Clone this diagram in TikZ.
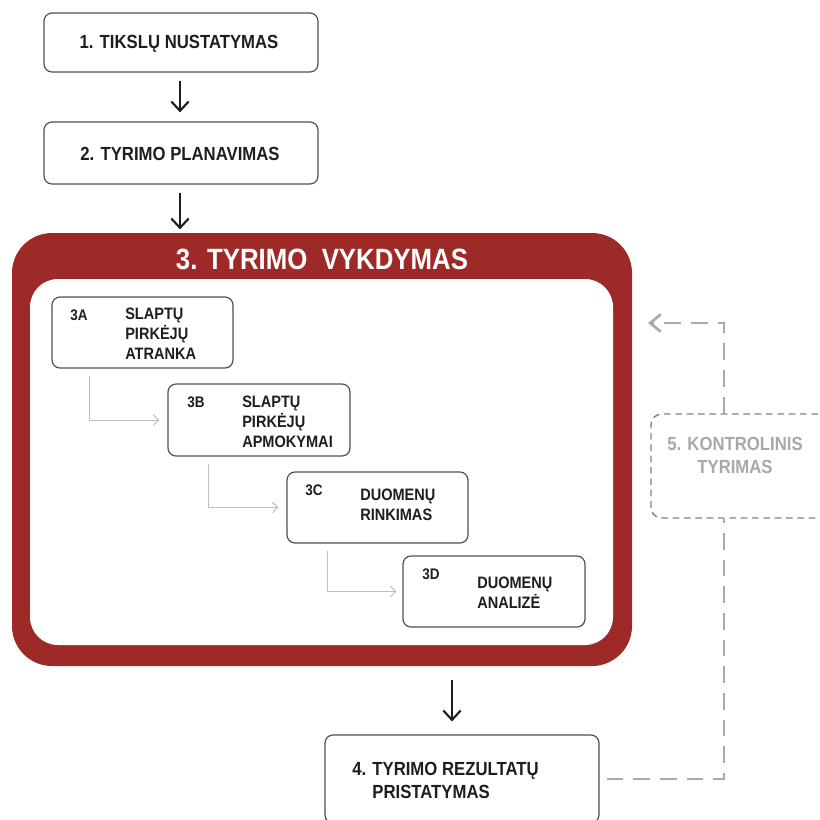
\documentclass[tikz,border=0pt]{standalone}
\usepackage{fontspec}
\usetikzlibrary{arrows.meta,fit,calc}
\newfontfamily\dCond{Liberation Sans}[FakeStretch=0.88]
\newcommand\dMain{\dCond\bfseries\fontsize{14.25pt}{17.25pt}\selectfont}
\newcommand\dSub{\dCond\bfseries\fontsize{12.4pt}{15pt}\selectfont}
\newcommand\dLab{\dCond\bfseries\fontsize{11.5pt}{13pt}\selectfont}
\newcommand\dTit{\dCond\bfseries\fontsize{22pt}{26pt}\selectfont}
\definecolor{execred}{RGB}{158,42,40}
\definecolor{boxgray}{RGB}{80,80,80}
\definecolor{txtdark}{RGB}{30,30,30}
\definecolor{subarrow}{RGB}{190,190,190}
\definecolor{fbgray}{RGB}{170,170,170}
\definecolor{fbbox}{RGB}{130,130,130}
\definecolor{fbtext}{RGB}{168,168,168}
\tikzset{
  box/.style={draw=boxgray, line width=0.9pt, rounded corners=6pt, fill=white, inner sep=0pt, text=txtdark},
  arr/.style={-{Straight Barb[length=7pt,width=13pt,line width=1.6pt]}, line width=1.6pt, txtdark},
  subarr/.style={-{Straight Barb[length=4pt,width=8pt]}, line width=0.75pt, subarrow},
  fbline/.style={line width=2.2pt, fbgray, dash pattern=on 12.5pt off 7.5pt},
  fbtip/.style={-{Straight Barb[length=8pt,width=13pt,line width=2pt]}},
  fbbox/.style={draw=fbbox, line width=1.1pt, dash pattern=on 5pt off 3.5pt, rounded corners=8pt, inner sep=0pt},
  txt/.style={inner sep=0pt, text=txtdark, align=left, anchor=north west},
  maintxt/.style={inner sep=0pt, text=txtdark, font=\dMain, anchor=base}
}
\begin{document}
\begin{tikzpicture}[x=0.75pt,y=-0.75pt]
\path[use as bounding box] (0,0) rectangle (820,819);
\clip (0,0) rectangle (820,819);

% top boxes
\node[box, fit={(44,13) (318,72)}] (b1) {};
\node[maintxt] (t1) at ([shift={(-2,6)}]b1.center) {1. TIKSLŲ NUSTATYMAS};
\node[box, fit={(44,122) (318,184)}] (b2) {};
\node[maintxt] (t2) at ([shift={(-1,7)}]b2.center) {2. TYRIMO PLANAVIMAS};

% execution frame
\node[fit={(12,233) (632,666)}, inner sep=0pt, fill=execred, rounded corners=30pt] (exec) {};
\node[fit={(30,279) (613,645)}, inner sep=0pt, fill=white, rounded corners=21pt] (execin) {};
\node[text=white, font=\dTit, inner sep=0pt] (title) at (322,259) {3. TYRIMO~~VYKDYMAS};

% sub boxes
\node[box, fit={(52,297) (233,368)}] (s3a) {};
\node[box, fit={(168,384) (350,456)}] (s3b) {};
\node[box, fit={(287,472) (468,543)}] (s3c) {};
\node[box, fit={(403,556) (585,627)}] (s3d) {};

\node[txt, font=\dLab] (l3a) at (70,310) {3A};
\node[txt, font=\dLab] (l3b) at (187,397) {3B};
\node[txt, font=\dLab] (l3c) at (305,485) {3C};
\node[txt, font=\dLab] (l3d) at (422,569) {3D};

\node[txt, font=\dSub] (t3a) at (125,308) {SLAPTŲ\\PIRKĖJŲ\\ATRANKA};
\node[txt, font=\dSub] (t3b) at (242,396) {SLAPTŲ\\PIRKĖJŲ\\APMOKYMAI};
\node[txt, font=\dSub] (t3c) at (360,489) {DUOMENŲ\\RINKIMAS};
\node[txt, font=\dSub] (t3d) at (477,577) {DUOMENŲ\\ANALIZĖ};

% box 4
\node[box, fit={(325,735) (599,823)}] (b4) {};
\node[txt, font=\dMain] (t4) at (352,762) {4. TYRIMO REZULTATŲ\\\phantom{4. }PRISTATYMAS};

% box 5
\node[fbbox, fit={(651,414) (840,518)}] (b5) {};
\node[inner sep=0pt, text=fbtext, font=\dMain, align=center] (t5) at (735,455) {5. KONTROLINIS\\TYRIMAS};

% main arrows
\coordinate (b1s) at ([shift={(-1,8)}]b1.south);
\coordinate (b2s) at ([shift={(-1,8)}]b2.south);
\draw[arr] (b1s) -- ([shift={(-1,-9)}]b2.north);
\draw[arr, shorten >=2.5pt] (b2s) -- (b2s |- exec.north);
\draw[arr] ([shift={(130,14)}]exec.south) -- ([shift={(-10,-13)}]b4.north);

% sub arrows
\draw[subarr] ([shift={(38,7)}]s3a.south west) |- ([shift={(-8,0)}]s3b.west);
\draw[subarr] ([shift={(41,7)}]s3b.south west) |- ([shift={(-8,0)}]s3c.west);
\draw[subarr] ([shift={(41,7)}]s3c.south west) |- ([shift={(-6,0)}]s3d.west);

% feedback loop
\coordinate (fbend) at (648,323);
\draw[fbline, fbtip] ([shift={(-21.5,0)}]b5.north) |- (fbend);
\draw[fbline] ([shift={(7,0)}]b4.east) -| ([shift={(-21.5,0)}]b5.south);
\end{tikzpicture}
\end{document}
